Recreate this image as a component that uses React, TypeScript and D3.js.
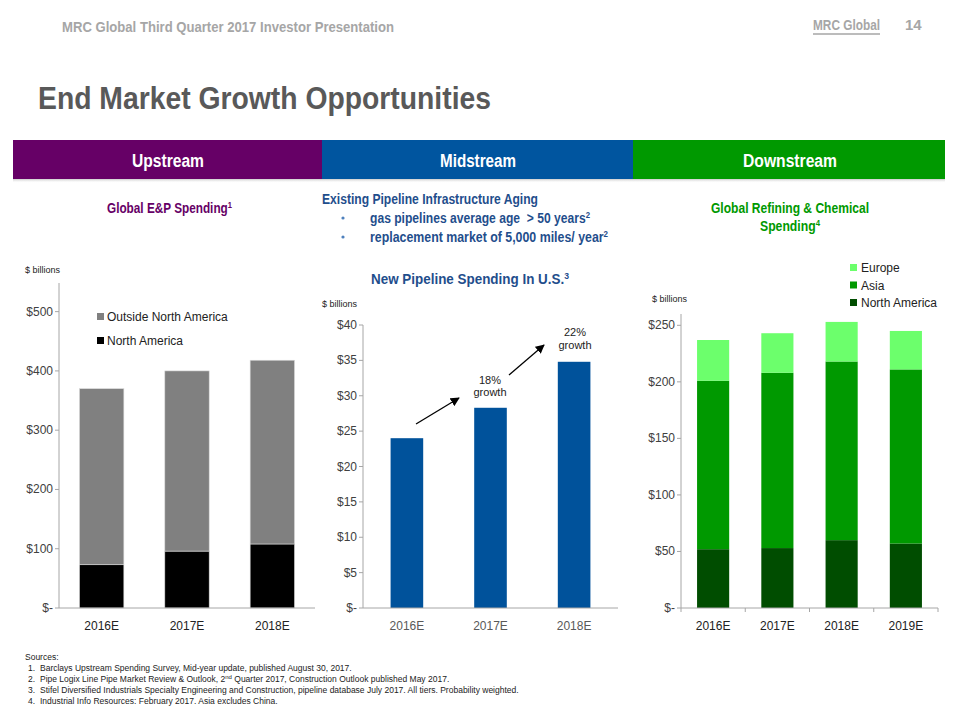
import React from "react";
import * as d3 from "d3";

const upCats = ["2016E", "2017E", "2018E"];
const upNorthAmerica = [73, 96, 108];
const upOutside = [297, 304, 310];

const midCats = ["2016E", "2017E", "2018E"];
const midValues = [24.0, 28.3, 34.8];

const downCats = ["2016E", "2017E", "2018E", "2019E"];
const downNorthAmerica = [52, 53, 60, 57];
const downAsia = [149, 155, 158, 154];
const downEurope = [36, 35, 35, 34];

const upTicks = [0, 100, 200, 300, 400, 500];
const midTicks = [0, 5, 10, 15, 20, 25, 30, 35, 40];
const downTicks = [0, 50, 100, 150, 200, 250];

const sources = [
  "Barclays Upstream Spending Survey, Mid-year update, published August 30, 2017.",
  "Pipe Logix Line Pipe Market Review & Outlook, 2nd Quarter 2017, Construction Outlook published May 2017.",
  "Stifel Diversified Industrials Specialty Engineering and Construction, pipeline database July 2017. All tiers. Probability weighted.",
  "Industrial Info Resources: February 2017. Asia excludes China.",
];

const FONT = "'Liberation Sans Narrow', 'Arial Narrow', 'Liberation Sans', Arial, sans-serif";
const SANS = "'Liberation Sans', Arial, sans-serif";
const AX = "#A6A6A6";
const fmt = (v: number) => (v === 0 ? "$-" : "$" + v);

function YAxis({ x, scale, ticks, len }: { x: number; scale: any; ticks: number[]; len: number }) {
  return (
    <g>
      {ticks.map((t) => (
        <g key={t}>
          <line x1={x - len} x2={x} y1={scale(t)} y2={scale(t)} stroke={AX} />
          <text x={x - 6} y={scale(t) + 4} textAnchor="end" fontSize={12} fill="#404040" fontFamily={SANS}>
            {fmt(t)}
          </text>
        </g>
      ))}
    </g>
  );
}

function Sup({ c }: { c: string }) {
  return (
    <>
      <tspan fontSize={9} dy={-5}>{c}</tspan>
    </>
  );
}

export default function App() {
  const ux = d3.scaleBand().domain(upCats).range([59, 315]).paddingInner(0.48).paddingOuter(0.24);
  const uy = d3.scaleLinear().domain([0, 550]).range([608, 282]);
  const mx = d3.scaleBand().domain(midCats).range([363, 618]).paddingInner(0.61).paddingOuter(0.33);
  const my = d3.scaleLinear().domain([0, 40]).range([608, 325]);
  const dx = d3.scaleBand().domain(downCats).range([681, 938]).paddingInner(0.5).paddingOuter(0.25);
  const dy = d3.scaleLinear().domain([0, 260]).range([608, 314]);

  const downStack = d3
    .stack<any>()
    .keys(["na", "asia", "eu"])(downCats.map((c, i) => ({ c, na: downNorthAmerica[i], asia: downAsia[i], eu: downEurope[i] })));
  const downColors = ["#004D00", "#009900", "#6CFF6C"];

  const upStack = d3
    .stack<any>()
    .keys(["na", "out"])(upCats.map((c, i) => ({ c, na: upNorthAmerica[i], out: upOutside[i] })));
  const upColors = ["#000000", "#808080"];

  const bold = { fontFamily: FONT, fontWeight: 700 } as const;

  return (
    <svg width={960} height={720} style={{ position: "absolute", left: 0, top: 0, background: "#fff" }}>
      <defs>
        <marker id="ah" viewBox="0 0 10 10" refX="9" refY="5" markerWidth="7" markerHeight="7" orient="auto">
          <path d="M0,0 L10,5 L0,10 z" fill="#000" />
        </marker>
        <linearGradient id="sh" x1="0" y1="0" x2="0" y2="1">
          <stop offset="0" stopColor="#999" stopOpacity={0.8} />
          <stop offset="1" stopColor="#fff" stopOpacity={0} />
        </linearGradient>
      </defs>

      {/* Header */}
      <text x={62} y={32} fontSize={15} fill="#A6A6A6" {...bold} textLength={332} lengthAdjust="spacingAndGlyphs">
        MRC Global Third Quarter 2017 Investor Presentation
      </text>
      <text x={813} y={30} fontSize={15} fill="#A6A6A6" {...bold} textLength={67} lengthAdjust="spacingAndGlyphs">
        MRC Global
      </text>
      <line x1={813} x2={880} y1={34} y2={34} stroke="#A6A6A6" strokeWidth={1.5} />
      <text x={905} y={30} fontSize={15} fill="#A6A6A6" {...bold}>
        14
      </text>

      {/* Title */}
      <text x={38} y={109} fontSize={32} fill="#595959" {...bold} textLength={453} lengthAdjust="spacingAndGlyphs">
        End Market Growth Opportunities
      </text>

      {/* Band */}
      <rect x={13} y={178} width={932} height={5} fill="url(#sh)" />
      <rect x={13} y={140} width={310} height={39} fill="#660066" />
      <rect x={322} y={140} width={312} height={39} fill="#00559F" />
      <rect x={633} y={140} width={312} height={39} fill="#009900" />
      <text x={168} y={167} textAnchor="middle" fontSize={18} fill="#fff" {...bold} textLength={72} lengthAdjust="spacingAndGlyphs">
        Upstream
      </text>
      <text x={478} y={167} textAnchor="middle" fontSize={18} fill="#fff" {...bold} textLength={76} lengthAdjust="spacingAndGlyphs">
        Midstream
      </text>
      <text x={790} y={167} textAnchor="middle" fontSize={18} fill="#fff" {...bold} textLength={94} lengthAdjust="spacingAndGlyphs">
        Downstream
      </text>

      {/* Subtitles */}
      <text x={107} y={213} fontSize={14} fill="#660066" {...bold} textLength={125} lengthAdjust="spacingAndGlyphs">
        Global E&amp;P Spending<Sup c="1" />
      </text>

      <text x={322} y={204} fontSize={14} fill="#1F4E8C" {...bold} textLength={216} lengthAdjust="spacingAndGlyphs">
        Existing Pipeline Infrastructure Aging
      </text>
      <circle cx={343} cy={218} r={1.6} fill="#4F81BD" />
      <text x={370} y={223} fontSize={14} fill="#1F4E8C" {...bold} textLength={220} lengthAdjust="spacingAndGlyphs">
        {"gas pipelines average age \u00A0> 50 years"}<Sup c="2" />
      </text>
      <circle cx={343} cy={237} r={1.6} fill="#4F81BD" />
      <text x={370} y={242} fontSize={14} fill="#1F4E8C" {...bold} textLength={238} lengthAdjust="spacingAndGlyphs">
        replacement market of 5,000 miles/ year<Sup c="2" />
      </text>

      <text x={790} y={213} textAnchor="middle" fontSize={14} fill="#009900" {...bold} textLength={158} lengthAdjust="spacingAndGlyphs">
        Global Refining &amp; Chemical
      </text>
      <text x={790} y={231} textAnchor="middle" fontSize={14} fill="#009900" {...bold} textLength={60} lengthAdjust="spacingAndGlyphs">
        Spending<Sup c="4" />
      </text>

      {/* ---------- Upstream chart ---------- */}
      <text x={25} y={273} fontSize={9} fill="#222" fontFamily={SANS}>$ billions</text>
      {upStack.map((s, k) =>
        s.map((d, i) => (
          <rect key={k + "-" + i} x={ux(upCats[i])} y={uy(d[1])} width={ux.bandwidth()} height={uy(d[0]) - uy(d[1])} fill={upColors[k]} stroke="#D9D9D9" strokeWidth={0.6} />
        ))
      )}
      <line x1={59} x2={59} y1={283} y2={608} stroke={AX} />
      <line x1={59} x2={315} y1={608} y2={608} stroke={AX} />
      <YAxis x={59} scale={uy} ticks={upTicks} len={4} />
      {upCats.map((c) => (
        <text key={c} x={(ux(c) as number) + ux.bandwidth() / 2} y={630} textAnchor="middle" fontSize={12} fill="#222" fontFamily={SANS}>
          {c}
        </text>
      ))}
      <rect x={97} y={313} width={7} height={7} fill="#808080" />
      <text x={107} y={321} fontSize={12} fill="#222" fontFamily={SANS}>Outside North America</text>
      <rect x={97} y={337} width={7} height={7} fill="#000" />
      <text x={107} y={345} fontSize={12} fill="#222" fontFamily={SANS}>North America</text>

      {/* ---------- Midstream chart ---------- */}
      <text x={470} y={284} textAnchor="middle" fontSize={14} fill="#1F4E8C" {...bold} textLength={198} lengthAdjust="spacingAndGlyphs">
        New Pipeline Spending In U.S.<Sup c="3" />
      </text>
      <text x={322} y={307} fontSize={9} fill="#222" fontFamily={SANS}>$ billions</text>
      {midCats.map((c, i) => (
        <rect key={c} x={mx(c)} y={my(midValues[i])} width={mx.bandwidth()} height={608 - my(midValues[i])} fill="#00529B" />
      ))}
      <line x1={363} x2={363} y1={325} y2={608} stroke={AX} />
      <line x1={363} x2={618} y1={608} y2={608} stroke={AX} />
      <YAxis x={363} scale={my} ticks={midTicks} len={4} />
      {midCats.map((c) => (
        <text key={c} x={(mx(c) as number) + mx.bandwidth() / 2} y={630} textAnchor="middle" fontSize={12} fill="#595959" fontFamily={SANS}>
          {c}
        </text>
      ))}
      <line x1={416} y1={424} x2={459} y2={398} stroke="#000" strokeWidth={1.3} markerEnd="url(#ah)" />
      <line x1={509} y1={375} x2={544} y2={345} stroke="#000" strokeWidth={1.3} markerEnd="url(#ah)" />
      <text x={490} y={384} textAnchor="middle" fontSize={11} fill="#222" fontFamily={SANS}>18%</text>
      <text x={490} y={396} textAnchor="middle" fontSize={11} fill="#222" fontFamily={SANS}>growth</text>
      <text x={575} y={336} textAnchor="middle" fontSize={11} fill="#222" fontFamily={SANS}>22%</text>
      <text x={575} y={349} textAnchor="middle" fontSize={11} fill="#222" fontFamily={SANS}>growth</text>

      {/* ---------- Downstream chart ---------- */}
      <text x={652} y={302} fontSize={9} fill="#222" fontFamily={SANS}>$ billions</text>
      {downStack.map((s, k) =>
        s.map((d, i) => (
          <rect key={k + "-" + i} x={dx(downCats[i])} y={dy(d[1])} width={dx.bandwidth()} height={dy(d[0]) - dy(d[1])} fill={downColors[k]} />
        ))
      )}
      <line x1={681} x2={681} y1={314} y2={608} stroke={AX} />
      <line x1={681} x2={938} y1={608} y2={608} stroke={AX} />
      {d3.range(downCats.length + 1).map((i) => {
        const xx = 681 + i * dx.step();
        return <line key={i} x1={xx} x2={xx} y1={608} y2={612} stroke={AX} />;
      })}
      <YAxis x={681} scale={dy} ticks={downTicks} len={4} />
      {downCats.map((c) => (
        <text key={c} x={(dx(c) as number) + dx.bandwidth() / 2} y={630} textAnchor="middle" fontSize={12} fill="#222" fontFamily={SANS}>
          {c}
        </text>
      ))}
      {["Europe", "Asia", "North America"].map((n, i) => (
        <g key={n}>
          <rect x={850} y={264 + i * 17.5} width={7} height={7} fill={downColors[2 - i]} />
          <text x={861} y={272 + i * 17.5} fontSize={12} fill="#222" fontFamily={SANS}>{n}</text>
        </g>
      ))}

      {/* Sources */}
      <g fontFamily={SANS} fontSize={8.5} fill="#222">
        <text x={25} y={660}>Sources:</text>
        {sources.map((s, i) => (
          <g key={i}>
            <text x={28} y={671 + i * 11}>{i + 1 + "."}</text>
            <text x={40} y={671 + i * 11}>
              {i === 1 ? (
                <>
                  Pipe Logix Line Pipe Market Review &amp; Outlook, 2<tspan fontSize={6} dy={-3}>nd</tspan>
                  <tspan dy={3}> Quarter 2017, Construction Outlook published May 2017.</tspan>
                </>
              ) : (
                s
              )}
            </text>
          </g>
        ))}
      </g>
    </svg>
  );
}
